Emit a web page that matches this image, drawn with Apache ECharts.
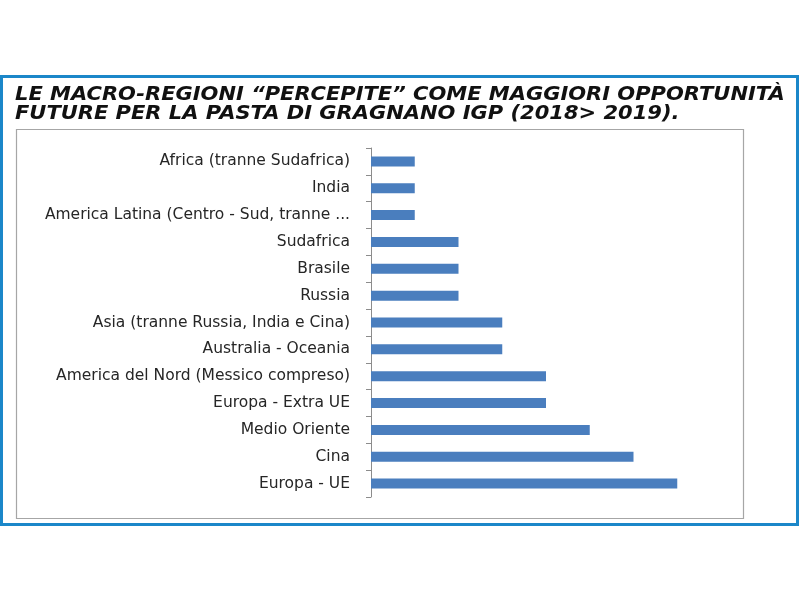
<!DOCTYPE html>
<html><head><meta charset="utf-8">
<script src="https://cdn.jsdelivr.net/npm/echarts@6/dist/echarts.min.js"></script>
<style>html,body{margin:0;padding:0;background:#fff}#c{width:800px;height:600px}</style>
</head><body><div id="c"></div>
<script>
const categories = [
  "Africa (tranne Sudafrica)",
  "India",
  "America Latina (Centro - Sud, tranne ...",
  "Sudafrica",
  "Brasile",
  "Russia",
  "Asia (tranne Russia, India e Cina)",
  "Australia - Oceania",
  "America del Nord (Messico compreso)",
  "Europa - Extra UE",
  "Medio Oriente",
  "Cina",
  "Europa - UE"
];
const values = [1, 1, 1, 2, 2, 2, 3, 3, 4, 4, 5, 6, 7];
const titleLines = [
  "LE MACRO-REGIONI \u201CPERCEPITE\u201D COME MAGGIORI OPPORTUNITÀ",
  "FUTURE PER LA PASTA DI GRAGNANO IGP (2018> 2019)."
];

const chart = echarts.init(document.getElementById('c'), null, {renderer: 'canvas'});
chart.setOption({
  backgroundColor: '#ffffff',
  animation: false,
  graphic: [
    {type: 'rect', shape: {x: 1.5, y: 76.5, width: 796, height: 448}, style: {fill: 'none', stroke: '#1b87c9', lineWidth: 3}, z: 0},
    {type: 'rect', shape: {x: 16.5, y: 129.5, width: 727, height: 389}, style: {fill: 'none', stroke: '#a6a6a6', lineWidth: 1.2}, z: 0},
    {type: 'text', x: 15, y: 86, scaleX: 1.105, scaleY: 1, style: {text: titleLines.join('\n'), font: 'italic bold 19px "DejaVu Sans"', fill: '#111', lineHeight: 19}}
  ],
  grid: {left: 371, top: 148, width: 350, height: 349, containLabel: false},
  xAxis: {
    type: 'value', min: 0, max: 8, interval: 1,
    show: true,
    axisLine: {show: false}, axisTick: {show: false}, axisLabel: {show: false}, splitLine: {show: false}
  },
  yAxis: {
    type: 'category', data: categories, inverse: true,
    axisLine: {show: true, lineStyle: {color: '#8c8c8c', width: 1}},
    axisTick: {show: true, length: 5, lineStyle: {color: '#8c8c8c'}},
    axisLabel: {color: '#262626', fontSize: 15.5, fontFamily: 'DejaVu Sans', margin: 21}
  },
  series: [{
    type: 'bar', data: values, barWidth: 10,
    itemStyle: {color: '#4a7ebe'}
  }]
});
</script></body></html>
